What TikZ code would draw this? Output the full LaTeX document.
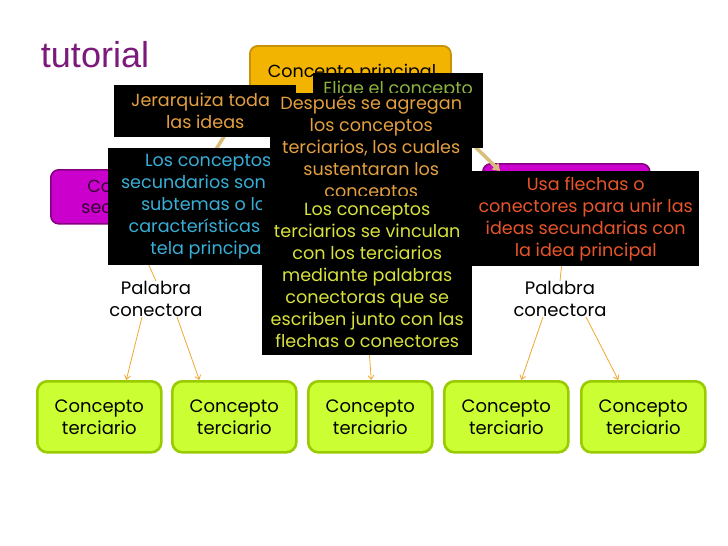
\documentclass[tikz,border=0pt]{standalone}
\usepackage{fontspec}
\setmainfont{Poppins}
\newfontfamily\arialf{Liberation Sans}
\usetikzlibrary{arrows.meta,calc}
\definecolor{gold}{HTML}{F2B400}
\definecolor{goldb}{HTML}{C89208}
\definecolor{purp}{HTML}{CC00CC}
\definecolor{purpb}{HTML}{85007F}
\definecolor{lime}{HTML}{CCFF33}
\definecolor{limeb}{HTML}{99CC00}
\definecolor{arrc}{HTML}{F0A830}
\definecolor{tanc}{HTML}{D8BE78}
\definecolor{titlec}{HTML}{7B1A7B}
\definecolor{torange}{HTML}{E4A040}
\definecolor{tgreen}{HTML}{8DB33F}
\definecolor{tcyan}{HTML}{38AED6}
\definecolor{tyellow}{HTML}{D8E23C}
\definecolor{tred}{HTML}{E8552A}
\begin{document}
\begin{tikzpicture}[x=1pt,y=-1pt,
  mainbox/.style={draw=goldb,fill=gold,line width=1.8pt,rounded corners=8pt,anchor=north west,inner sep=0pt},
  secbox/.style={draw=purpb,fill=purp,line width=1.6pt,rounded corners=8pt,anchor=north west,inner sep=0pt},
  terbox/.style={draw=limeb,fill=lime,line width=2.6pt,rounded corners=10pt,anchor=north west,inner sep=0pt,
     minimum width=124pt,minimum height=71pt,align=center,font=\fontsize{18}{22}\selectfont},
  blackbox/.style={fill=black,anchor=north west,inner sep=0pt},
  btext/.style={align=center,inner sep=0pt,font=\fontsize{17.6}{22}\selectfont},
  wordtext/.style={align=center,inner sep=0pt,font=\fontsize{18}{22}\selectfont},
  conn/.style={draw=arrc,line width=0.8pt,-{Straight Barb[length=4pt,width=6pt]}},
  thickconn/.style={draw=tanc,line width=3.5pt,-{Triangle[length=7pt,width=9pt]}}
]
\useasboundingbox (0,0) rectangle (728,546);
\fill[white] (0,0) rectangle (728,546);

\node[text=titlec,font=\arialf\fontsize{36}{40}\selectfont,inner sep=0pt] (title) at (95,55) {tutorial};

% main and secondary concepts
\node[mainbox,minimum width=201pt,minimum height=50pt] (main) at (249,45) {};
\node[font=\fontsize{17.5}{22}\selectfont,inner sep=0pt] (maintxt) at (352,73) {Concepto principal};
\node[secbox,minimum width=160pt,minimum height=54pt,align=center,text=black!75!purp,font=\fontsize{17.5}{21}\selectfont] (sec1) at (50,169) {Concepto\\secundario};
\node[secbox,minimum width=167pt,minimum height=54pt] (sec2) at (482,163) {};

% connecting words
\node[wordtext] (pal1) at (156,299) {Palabra\\conectora};
\node[wordtext] (pal2) at (560,299) {Palabra\\conectora};

% tertiary concepts
\node[terbox] (t1) at (36,380) {Concepto\\terciario};
\node[terbox] (t2) at (171,380) {Concepto\\terciario};
\node[terbox] (t3) at (307,380) {Concepto\\terciario};
\node[terbox] (t4) at (443,380) {Concepto\\terciario};
\node[terbox] (t5) at (580,380) {Concepto\\terciario};

% connectors
\draw[thickconn] (main.south west) -- ($(sec1.north east)+(-8,0)$);
\draw[thickconn] ($(main.south east)+(-28,0)$) -- ($(sec2.north west)+(18,8)$);
\draw[draw=arrc,line width=0.8pt] (sec1.south) -- (pal1.north);
\draw[draw=arrc,line width=0.8pt] (sec2.south) -- (pal2.north);
\draw[conn] ($(pal1.south)+(-14,0)$) -- ($(t1.north)+(27,0)$);
\draw[conn] ($(pal1.south)+(21,0)$) -- ($(t2.north)+(-35,0)$);
\draw[conn] (main.south) -- ($(t3.north)+(1,0)$);
\draw[conn] ($(pal2.south)+(-17,0)$) -- ($(t4.north)+(15,0)$);
\draw[conn] ($(pal2.south)+(26,0)$) -- ($(t5.north)+(-25,0)$);

% black annotation boxes
\node[blackbox,minimum width=182pt,minimum height=52pt] (jer) at (114,85) {};
\node[btext,text=torange] (jertxt) at (jer.center) {Jerarquiza todas\\las ideas};

\node[blackbox,minimum width=200pt,minimum height=117pt] (secn) at (108,148) {};
\node[btext,text=tcyan] (secntxt) at (secn.center) {Los conceptos\\secundarios son los\\subtemas o los\\características de\\tela principal};

\node[blackbox,minimum width=170pt,minimum height=75pt] (eli) at (313,73) {};
\node[btext,text=tgreen] (elitxt) at ($(eli.north)+(0,17)$) {Elige el concepto};

\node[blackbox,minimum width=202pt,minimum height=114pt] (des) at (270,93) {};
\node[btext,text=torange] (destxt) at ($(des.center)+(0,-1)$) {Después se agregan\\los conceptos\\terciarios, los cuales\\sustentaran los\\conceptos};

\node[blackbox,minimum width=210pt,minimum height=159pt] (ter) at (262,196) {};
\node[btext,text=tyellow] (tertxt) at (ter.center) {Los conceptos\\terciarios se vinculan\\con los terciarios\\mediante palabras\\conectoras que se\\escriben junto con las\\flechas o conectores};

\node[blackbox,minimum width=227pt,minimum height=95pt] (usa) at (472,171) {};
\node[btext,text=tred] (usatxt) at (usa.center) {Usa flechas o\\conectores para unir las\\ideas secundarias con\\la idea principal};
\end{tikzpicture}
\end{document}
